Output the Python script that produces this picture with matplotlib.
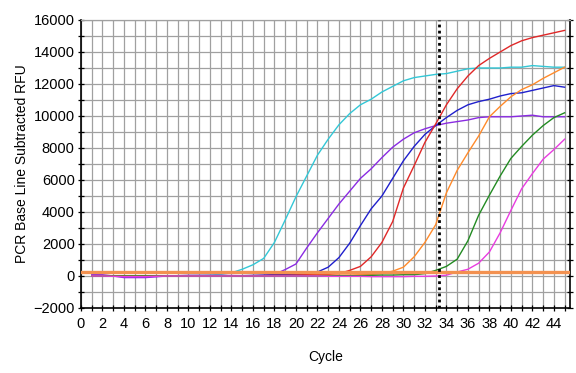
import matplotlib.pyplot as plt
from matplotlib.ticker import MultipleLocator

# cycles 1..45
cycles = list(range(1, 46))

# curves (RFU after base line subtraction)
cyan = [20, 10, 0, -20, -30, -20, 0, 10, 20, 30, 40, 60, 100,
        200, 420, 700, 1100, 2100, 3500, 4950, 6250, 7550, 8550, 9450,
        10150, 10700, 11050, 11500, 11850, 12200, 12400, 12500, 12600,
        12650, 12800, 12950, 13000, 13000, 13000, 13050, 13050, 13150,
        13100, 13050, 13050]
violet = [80, 80, 0, -100, -100, -100, -50, 0, 20, 40, 40, 40, 40, 30,
          20, 20, 30, 100, 400, 750, 1750, 2700, 3600, 4500, 5300, 6100,
          6700, 7400, 8050, 8550, 8950, 9200, 9400, 9550, 9650, 9750,
          9900, 9950, 9950, 9950, 10000, 10050, 9950, 9950, 9950]
blue = [0, 0, 0, -20, -20, 0, 0, 0, 10, 20, 20, 10, 0, 0, 20, 40, 60,
        80, 100, 80, 100, 250, 550, 1150, 2050, 3150, 4200, 5000, 6100,
        7200, 8100, 8850, 9400, 9900, 10350, 10700, 10900, 11050, 11250,
        11400, 11450, 11600, 11750, 11900, 11800]
red = [0, 0, 0, 0, -20, -20, 0, 0, 0, 0, 0, 10, 10, 0, 0, 20, 20, 40,
       40, 60, 80, 80, 100, 150, 350, 600, 1200, 2100, 3400, 5500, 6900,
       8350, 9500, 10700, 11700, 12500, 13150, 13600, 14000, 14400,
       14700, 14900, 15050, 15200, 15350]
orange = [0, 0, 0, 0, 0, 0, 0, 0, 0, 0, 0, 0, 0, 0, 0, 0, 0, 0, 0, 20,
          20, 40, 40, 60, 60, 80, 100, 150, 300, 550, 1200, 2100, 3200,
          5200, 6600, 7700, 8750, 9950, 10600, 11200, 11650, 11950, 12350,
          12700, 13050]
green = [0, 0, 0, 0, 0, 0, 0, 0, 0, 0, 0, 0, 0, 0, 0, 0, 0, 0, 0, 0, 0,
         0, 0, 20, 20, 20, 40, 60, 60, 80, 80, 150, 350, 600, 1050, 2200,
         3800, 5050, 6250, 7350, 8100, 8800, 9400, 9900, 10200]
magenta = [0, 0, -20, -40, -40, -40, -20, 0, 0, 0, 0, 0, 0, 0, 0, 0, 0,
           0, 0, 0, 0, 0, -20, -20, -20, -20, -40, -40, -40, -40, -20,
           -20, 0, 50, 250, 420, 800, 1500, 2700, 4100, 5450, 6400, 7300,
           7900, 8550]

series = [
    (cyan, '#33c7d6'),
    (violet, '#8a2be2'),
    (blue, '#1f1fcc'),
    (red, '#e02828'),
    (orange, '#ff8a2a'),
    (green, '#228b22'),
    (magenta, '#e83ce0'),
]

threshold = 270
marker_cycle = 33.3

plt.rcParams['font.family'] = ['Liberation Sans', 'DejaVu Sans']

fig = plt.figure(figsize=(5.76, 3.73), dpi=100)
ax = fig.add_axes([0.1406, 0.1743, 0.849, 0.7721])

for vals, col in series:
    ax.plot(cycles, vals, color=col, lw=1.0, zorder=3)

ax.axhline(threshold, color='#f39150', lw=2.4, zorder=4)
ax.axvline(marker_cycle, color='black', lw=2.0, ls=(0, (1, 1.2)), zorder=5)

ax.set_xlim(0, 45.5)
ax.set_ylim(-2000, 16000)
ax.xaxis.set_major_locator(MultipleLocator(2))
ax.xaxis.set_minor_locator(MultipleLocator(1))
ax.yaxis.set_major_locator(MultipleLocator(2000))
ax.yaxis.set_minor_locator(MultipleLocator(1000))

ax.grid(which='both', color='#a0a0a0', lw=0.9, zorder=1)
ax.set_axisbelow(True)

ax.tick_params(which='both', direction='inout', length=5, width=0.9,
               labelsize=10.5, pad=2, right=True, top=False)
ax.tick_params(axis='x', pad=4)

for s in ['left', 'bottom', 'right']:
    ax.spines[s].set_linewidth(1.2)
ax.spines['top'].set_color('#a0a0a0')
ax.spines['top'].set_linewidth(0.9)

ax.set_xlabel('Cycle', fontsize=10, labelpad=14)
ax.set_ylabel('PCR Base Line Subtracted RFU', fontsize=10, labelpad=3)

fig.savefig('out.png', dpi=100)
